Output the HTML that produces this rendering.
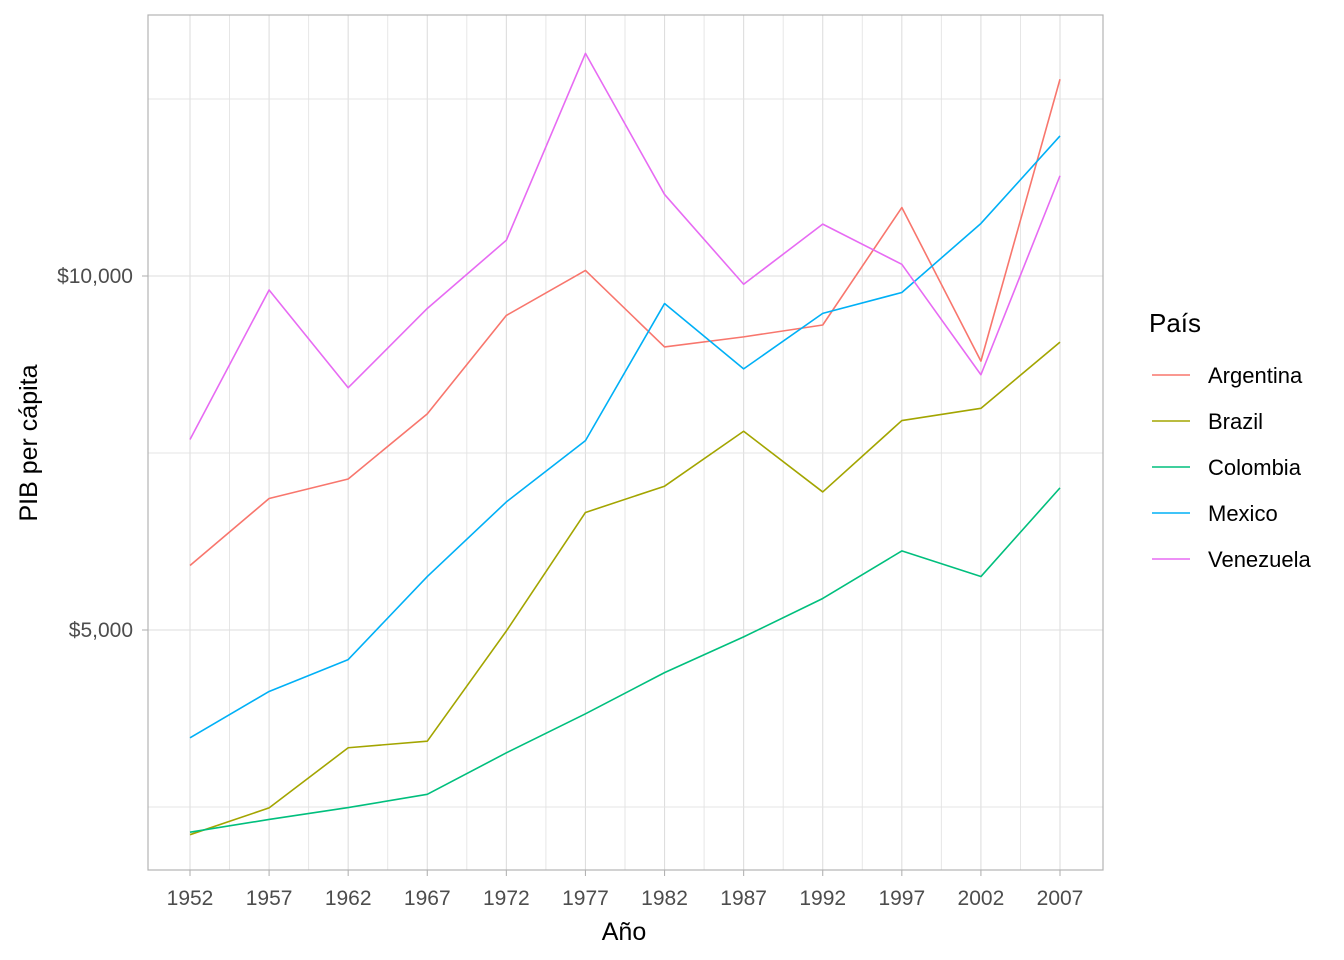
<!DOCTYPE html>
<html><head><meta charset="utf-8"><style>
body{margin:0;background:#fff;}
svg{display:block;font-family:"Liberation Sans",Arial,sans-serif;}
</style></head><body>
<svg id="chart" width="1344" height="960">
<g id="grid"></g>
<g id="lines"></g>
<rect x="148" y="15" width="955" height="855" fill="none" stroke="#b3b3b3" stroke-width="1.2"/>
<g id="axes"></g>
<text x="624" y="940" font-size="25" text-anchor="middle" fill="#000">Año</text>
<text transform="translate(37,443) rotate(-90)" font-size="25" text-anchor="middle" fill="#000">PIB per cápita</text>
<g id="legend">
<text x="1149" y="332" font-size="26" fill="#000">País</text>
</g>
</svg>
<script>
const years=[1952,1957,1962,1967,1972,1977,1982,1987,1992,1997,2002,2007];
const countries=["Argentina","Brazil","Colombia","Mexico","Venezuela"];
const colors=["#F8766D","#A3A500","#00BF7D","#00B0F6","#E76BF3"];
const argentina=[5911,6857,7133,8053,9443,10079,8998,9140,9308,10967,8798,12779];
const brazil=[2109,2487,3337,3430,4986,6660,7031,7807,6950,7958,8131,9066];
const colombia=[2144,2324,2492,2679,3265,3816,4398,4903,5445,6117,5755,7007];
const mexico=[3478,4132,4582,5755,6809,7675,9611,8688,9472,9767,10742,11978];
const venezuela=[7690,9803,8422,9541,10506,13144,11152,9883,10733,10165,8605,11416];
const series=[argentina,brazil,colombia,mexico,venezuela];
const yMajor=[5000,10000];
const yMajorLabels=["$5,000","$10,000"];
const yMinor=[2500,7500,12500];
const NS="http://www.w3.org/2000/svg";
function x(v){return 190+(v-1952)*(870/55);}
function y(v){return 630-(v-5000)*(354/5000);}
function mk(t,a,p){const e=document.createElementNS(NS,t);for(const k in a)e.setAttribute(k,a[k]);p.appendChild(e);return e;}
const grid=document.getElementById('grid'),lines=document.getElementById('lines'),axes=document.getElementById('axes'),legend=document.getElementById('legend');
years.forEach((yr,i)=>{
  const l=mk('line',{x1:x(yr),x2:x(yr),y1:15,y2:870,stroke:'#dedede','stroke-width':1.1},grid);
  
  
  if(i<years.length-1){
    const m=mk('line',{x1:x(yr+2.5),x2:x(yr+2.5),y1:15,y2:870,stroke:'#e4e4e4','stroke-width':0.9},grid);
    
    
  }
  const tk=mk('line',{x1:x(yr),x2:x(yr),y1:870,y2:876,stroke:'#b3b3b3','stroke-width':1.1},axes);
  
  
  const t=mk('text',{x:x(yr),y:905,'font-size':21,'text-anchor':'middle',fill:'#4d4d4d'},axes);
  t.textContent=yr;
  
  
});
yMinor.forEach(v=>{
  const m=mk('line',{x1:148,x2:1103,y1:y(v),y2:y(v),stroke:'#e4e4e4','stroke-width':0.9},grid);
  
  
});
yMajor.forEach((v,i)=>{
  const l=mk('line',{x1:148,x2:1103,y1:y(v),y2:y(v),stroke:'#dedede','stroke-width':1.1},grid);
  
  
  const tk=mk('line',{x1:142,x2:148,y1:y(v),y2:y(v),stroke:'#b3b3b3','stroke-width':1.1},axes);
  
  
  const t=mk('text',{x:133,y:y(v)+7,'font-size':21,'text-anchor':'end',fill:'#4d4d4d'},axes);
  t.textContent=yMajorLabels[i];
  
  
});
series.forEach((s,i)=>{
  const p=mk('polyline',{points:s.map((v,j)=>x(years[j])+','+y(v)).join(' '),fill:'none',stroke:colors[i],'stroke-width':1.6,'stroke-linejoin':'round'},lines);
  
  
  const ly=375+i*46;
  const ll=mk('line',{x1:1152,x2:1190,y1:ly,y2:ly,stroke:colors[i],'stroke-width':1.5},legend);
  
  
  const lt=mk('text',{x:1208,y:ly+8,'font-size':22,fill:'#000'},legend);
  lt.textContent=countries[i];
  
  
});
</script>
</body></html>
